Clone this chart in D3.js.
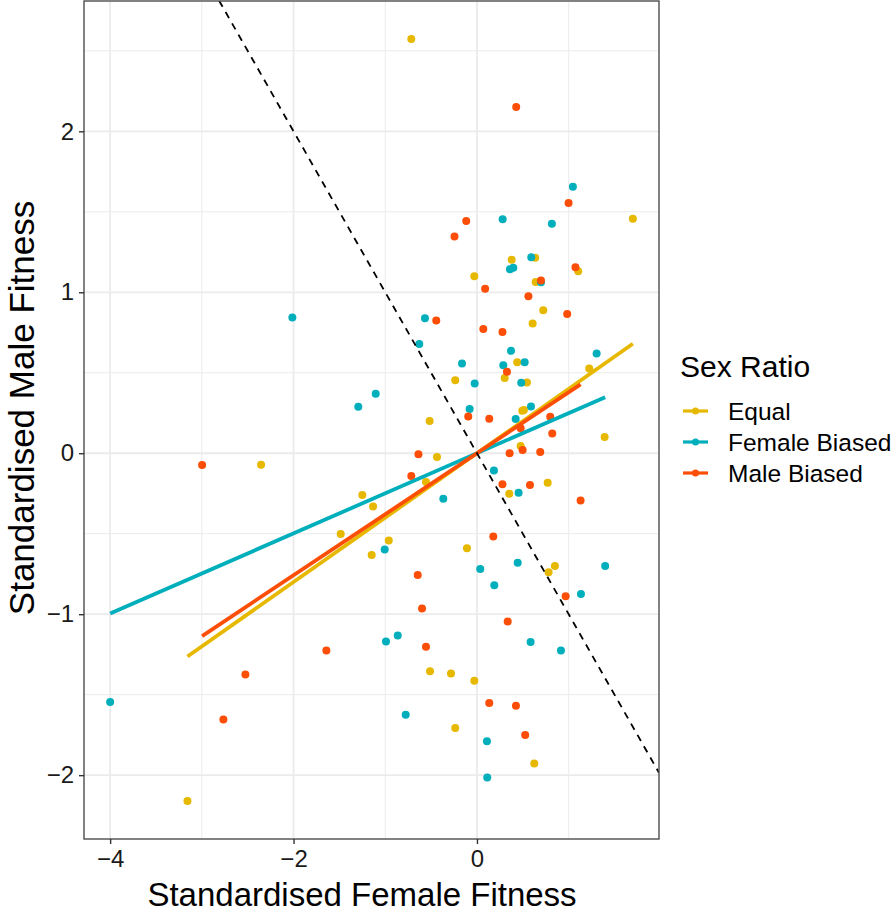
<!DOCTYPE html>
<html>
<head>
<meta charset="utf-8">
<script src="https://cdn.jsdelivr.net/npm/d3@7"></script>
<style>
  body { margin: 0; background: #fff; }
  svg { display: block; font-family: Arial, "Liberation Sans", sans-serif; }
</style>
</head>
<body>
<div id="chart"></div>
<script>
// data
const groups = ['Equal', 'Female Biased', 'Male Biased'];
const groupColors = ['#E7B800', '#00AFBB', '#FC4E07'];

const equalX = [-0.716, 1.700, 0.378, 0.635, -0.029, 1.104, 0.640, 0.723, 0.607, -0.237,
  0.302, 0.439, 0.545, 1.224, -0.516, 0.494, 0.512, 1.392, 0.476, -0.436,
  -2.354, -0.556, 0.352, 0.771, -1.250, -1.133, -1.486, -0.962, -1.148, -0.109,
  0.850, 0.781, -0.512, -0.283, -0.029, -0.237, 0.625, -3.157];
const equalY = [2.573, 1.457, 1.202, 1.215, 1.099, 1.130, 1.064, 0.888, 0.806, 0.453,
  0.467, 0.566, 0.440, 0.527, 0.200, 0.264, 0.268, 0.101, 0.045, -0.023,
  -0.071, -0.178, -0.252, -0.184, -0.260, -0.331, -0.502, -0.542, -0.632, -0.591,
  -0.701, -0.740, -1.354, -1.368, -1.414, -1.707, -1.928, -2.160];

const femaleX = [1.046, 0.280, 0.817, 0.592, 0.360, 0.396, 0.698, -2.013, -0.567, -0.629,
  0.371, 0.520, 0.287, -0.163, -0.025, 0.483, 1.305, -1.104, -1.294, -0.080,
  0.589, 0.422, 0.185, 0.454, -0.367, -1.006, 0.036, 0.444, 1.398, 0.189,
  1.134, -0.992, -0.864, 0.585, 0.916, -0.777, 0.109, 0.112, -4.000];
const femaleY = [1.655, 1.454, 1.426, 1.217, 1.143, 1.152, 1.062, 0.843, 0.839, 0.678,
  0.636, 0.566, 0.546, 0.558, 0.434, 0.438, 0.620, 0.370, 0.289, 0.275,
  0.291, 0.213, -0.108, -0.246, -0.283, -0.598, -0.719, -0.680, -0.701, -0.820,
  -0.874, -1.170, -1.133, -1.172, -1.226, -1.624, -1.790, -2.015, -1.546];

const maleX = [0.428, 0.999, -0.117, -0.245, 1.074, 0.698, 0.089, 0.561, 0.984, -0.444,
  0.069, 0.278, 0.327, -0.095, 0.134, 0.799, 0.476, 0.821, 0.498, 0.356,
  0.690, -0.638, -2.997, -0.716, 0.278, 0.578, 1.130, 0.178, -0.646, 0.967,
  -0.599, 0.335, -0.556, -1.642, -2.525, 0.134, 0.425, -2.765, 0.526];
const maleY = [2.151, 1.554, 1.443, 1.346, 1.155, 1.073, 1.022, 0.975, 0.865, 0.825,
  0.772, 0.754, 0.506, 0.229, 0.215, 0.227, 0.155, 0.122, 0.020, 0.000,
  0.008, -0.006, -0.073, -0.141, -0.193, -0.198, -0.294, -0.517, -0.756, -0.889,
  -0.965, -1.046, -1.203, -1.226, -1.374, -1.552, -1.569, -1.655, -1.751];

// fitted lines (lm per group)
const fitSlopes = [0.400, 0.249, 0.379];
const fitIntercepts = [0, 0, 0];
// reference line y = -x
const refSlope = -1;
const refIntercept = 0;

const xTicks = [-4, -2, 0];
const xMinorTicks = [-3, -1, 1];
const yTicks = [-2, -1, 0, 1, 2];
const yMinorTicks = [-1.5, -0.5, 0.5, 1.5, 2.5];

const xTitle = 'Standardised Female Fitness';
const yTitle = 'Standardised Male Fitness';
const legendTitle = 'Sex Ratio';

const seriesX = [equalX, femaleX, maleX];
const seriesY = [equalY, femaleY, maleY];

const width = 896;
const height = 916;
const margin = { left: 84, top: 1, right: 237, bottom: 77 };

const points = [];
groups.forEach((g, gi) => {
  seriesX[gi].forEach((x, i) => points.push({ group: gi, x: x, y: seriesY[gi][i] }));
});

// ggplot style 5% expansion
function expand(ext) {
  const pad = (ext[1] - ext[0]) * 0.05;
  return [ext[0] - pad, ext[1] + pad];
}

const x = d3.scaleLinear()
  .domain(expand(d3.extent(points, (d) => d.x)))
  .range([margin.left, width - margin.right]);
const y = d3.scaleLinear()
  .domain(expand(d3.extent(points, (d) => d.y)))
  .range([height - margin.bottom, margin.top]);

const fmt = (v) => (v < 0 ? '\u2212' + Math.abs(v) : String(v));

const svg = d3.select('#chart').append('svg')
  .attr('width', width)
  .attr('height', height);

svg.append('defs').append('clipPath')
  .attr('id', 'panel-clip')
  .append('rect')
  .attr('x', x.range()[0])
  .attr('y', y.range()[1])
  .attr('width', x.range()[1] - x.range()[0])
  .attr('height', y.range()[0] - y.range()[1]);

const grid = svg.append('g').attr('class', 'grid');

grid.selectAll('line.xminor')
  .data(xMinorTicks)
  .enter().append('line')
  .attr('x1', (d) => x(d)).attr('x2', (d) => x(d))
  .attr('y1', y.range()[0]).attr('y2', y.range()[1])
  .attr('stroke', '#ebebeb').attr('stroke-width', 1);

grid.selectAll('line.yminor')
  .data(yMinorTicks)
  .enter().append('line')
  .attr('y1', (d) => y(d)).attr('y2', (d) => y(d))
  .attr('x1', x.range()[0]).attr('x2', x.range()[1])
  .attr('stroke', '#ebebeb').attr('stroke-width', 1);

grid.selectAll('line.xmajor')
  .data(xTicks)
  .enter().append('line')
  .attr('x1', (d) => x(d)).attr('x2', (d) => x(d))
  .attr('y1', y.range()[0]).attr('y2', y.range()[1])
  .attr('stroke', '#ebebeb').attr('stroke-width', 1.8);

grid.selectAll('line.ymajor')
  .data(yTicks)
  .enter().append('line')
  .attr('y1', (d) => y(d)).attr('y2', (d) => y(d))
  .attr('x1', x.range()[0]).attr('x2', x.range()[1])
  .attr('stroke', '#ebebeb').attr('stroke-width', 1.8);

const plot = svg.append('g')
  .attr('class', 'plots')
  .attr('clip-path', 'url(#panel-clip)');

plot.selectAll('circle.pt')
  .data(points)
  .enter().append('circle')
  .attr('class', 'pt')
  .attr('cx', (d) => x(d.x))
  .attr('cy', (d) => y(d.y))
  .attr('r', 4)
  .attr('fill', (d) => groupColors[d.group]);

// fit lines span each group's x range
const fits = groups.map((g, gi) => {
  const ext = d3.extent(seriesX[gi]);
  return ext.map((v) => ({ x: v, y: fitIntercepts[gi] + fitSlopes[gi] * v, group: gi }));
});

const line = d3.line().x((d) => x(d.x)).y((d) => y(d.y));

plot.selectAll('path.fit')
  .data(fits)
  .enter().append('path')
  .attr('class', 'fit')
  .attr('d', line)
  .attr('fill', 'none')
  .attr('stroke', (d) => groupColors[d[0].group])
  .attr('stroke-width', 3.8);

const refPts = x.domain().map((v) => ({ x: v, y: refIntercept + refSlope * v }));
plot.append('path')
  .attr('d', line(refPts))
  .attr('fill', 'none')
  .attr('stroke', '#000')
  .attr('stroke-width', 1.8)
  .attr('stroke-dasharray', '7,6');

// panel border
svg.append('rect')
  .attr('x', x.range()[0])
  .attr('y', y.range()[1])
  .attr('width', x.range()[1] - x.range()[0])
  .attr('height', y.range()[0] - y.range()[1])
  .attr('fill', 'none')
  .attr('stroke', '#4d4d4d')
  .attr('stroke-width', 1.4);

// axes
const xAxis = svg.append('g')
  .attr('transform', `translate(0,${y.range()[0]})`)
  .call(d3.axisBottom(x).tickValues(xTicks).tickFormat(fmt).tickSize(5).tickPadding(6));
const yAxis = svg.append('g')
  .attr('transform', `translate(${x.range()[0]},0)`)
  .call(d3.axisLeft(y).tickValues(yTicks).tickFormat(fmt).tickSize(5).tickPadding(5));

[xAxis, yAxis].forEach((a) => {
  a.select('.domain').remove();
  a.selectAll('.tick line').attr('stroke', '#333').attr('stroke-width', 1.4);
  a.selectAll('.tick text')
    .attr('font-family', 'Arial, "Liberation Sans", sans-serif')
    .attr('font-size', 24)
    .attr('fill', '#1a1a1a');
});

svg.append('text')
  .attr('x', 362)
  .attr('y', 906)
  .attr('text-anchor', 'middle')
  .attr('font-size', 33)
  .attr('fill', '#000')
  .text(xTitle);

svg.append('text')
  .attr('transform', `translate(34,408) rotate(-90)`)
  .attr('text-anchor', 'middle')
  .attr('font-size', 35)
  .attr('fill', '#000')
  .text(yTitle);

// legend
const legend = svg.append('g')
  .attr('class', 'legend')
  .attr('transform', 'translate(680,0)');

legend.append('text')
  .attr('x', 0)
  .attr('y', 377)
  .attr('font-size', 30)
  .attr('fill', '#000')
  .text(legendTitle);

const keys = legend.selectAll('g.key')
  .data(groups)
  .enter().append('g')
  .attr('class', 'key')
  .attr('transform', (d, i) => `translate(0,${411 + i * 31})`);

keys.append('line')
  .attr('x1', 3).attr('x2', 28)
  .attr('stroke', (d, i) => groupColors[i])
  .attr('stroke-width', 3.2);
keys.append('circle')
  .attr('cx', 15.5).attr('r', 3.5)
  .attr('fill', (d, i) => groupColors[i]);
keys.append('text')
  .attr('x', 48)
  .attr('y', 8.5)
  .attr('font-size', 24.5)
  .attr('fill', '#000')
  .text((d) => d);
</script>
</body>
</html>
